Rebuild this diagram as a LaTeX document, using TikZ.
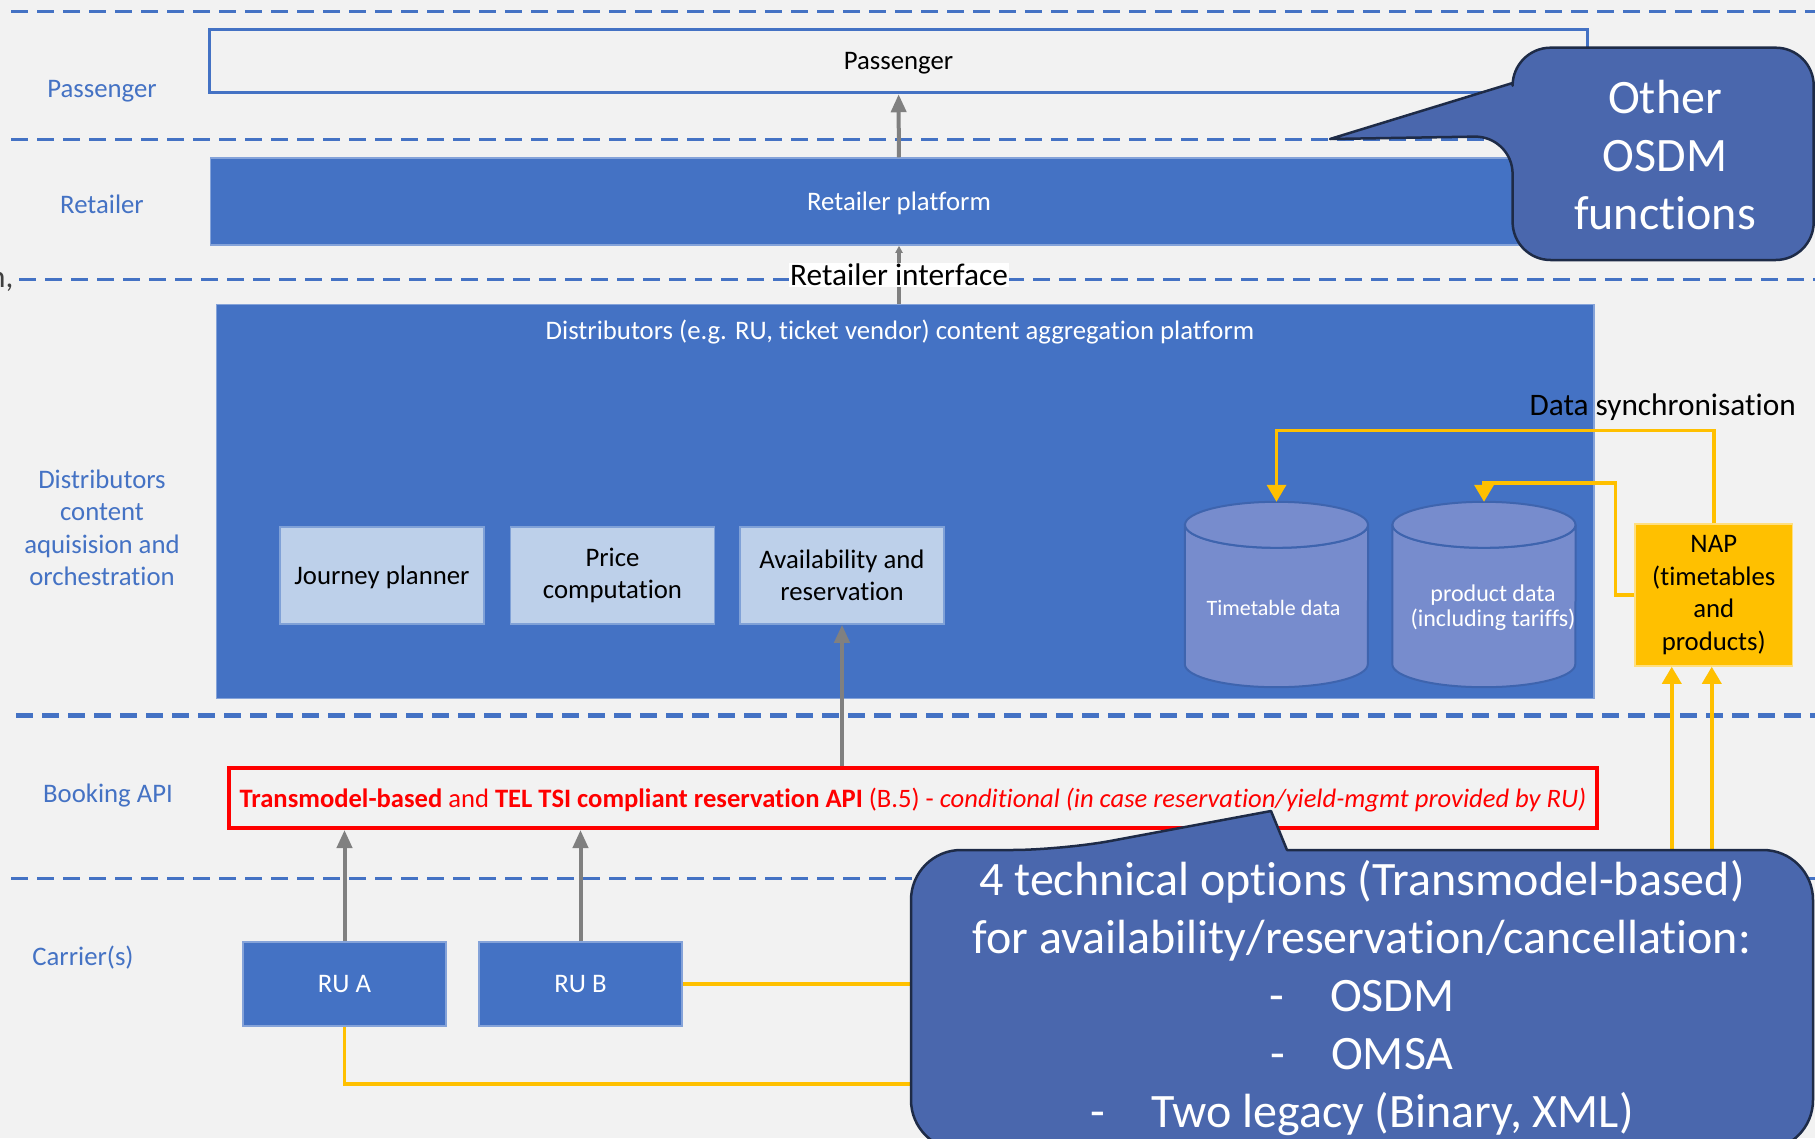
\documentclass[tikz,border=0pt]{standalone}
\usepackage{fontspec}
\setmainfont{Carlito}[Ligatures=NoCommon]
\usetikzlibrary{calc}
\usetikzlibrary{arrows.meta}

\definecolor{bggray}{HTML}{F2F2F2}
\definecolor{office}{HTML}{4472C4}
\definecolor{paleblue}{HTML}{BDD0EA}
\definecolor{cylblue}{HTML}{778CCD}
\definecolor{cyledge}{HTML}{3E64AE}
\definecolor{callblue}{HTML}{4A67AD}
\definecolor{calledge}{HTML}{1E2B47}
\definecolor{amber}{HTML}{FFC000}
\definecolor{arrowgray}{HTML}{808080}
\definecolor{apired}{HTML}{FF0000}

\newcommand{\lbl}{\fontsize{26.75}{32.5}\selectfont}
\newcommand{\biglbl}{\fontsize{31.3}{38}\selectfont}
\newcommand{\dbfont}{\fontsize{22}{25}\selectfont}
\newcommand{\prodfont}{\fontsize{24}{25}\selectfont}
\newcommand{\apifont}{\fontsize{26.6}{30}\selectfont}
\newcommand{\callfont}{\fontsize{48}{58}\selectfont}

\begin{document}
\begin{tikzpicture}[x=1pt,y=-1pt,
    lane/.style={draw=office,line width=3pt,dash pattern=on 17pt off 9pt},
    blk/.style={draw=office!65!white,line width=1.5pt,fill=office,text=white,font=\lbl,inner sep=0pt},
    pale/.style={draw=office!50!paleblue,line width=1.5pt,fill=paleblue,font=\lbl,align=center,inner sep=0pt,minimum width=204pt,minimum height=97pt},
    cyl/.style={draw=cyledge,line width=2pt,fill=cylblue},
    side/.style={text=office,font=\lbl,align=center},
    oneline/.style={text depth=0pt},
    up/.style={draw=arrowgray,line width=4pt,-{Triangle[length=18pt,width=15pt]}},
    sync/.style={draw=amber,line width=3.5pt,-{Triangle[length=17pt,width=19pt]}},
    callout/.style={fill=callblue,draw=calledge,line width=2.5pt,line join=round}]
    \path[use as bounding box] (0,0) rectangle (1815,1138);
    \clip (0,0) rectangle (1815,1138);
    \fill[bggray] (0,0) rectangle (1815,1138);
    % Lanes.
    \foreach \y/\x in {11.6/11,139/11,279/19,878/11}
      \draw[lane] (\x,\y) -- (1815,\y);
    \draw[lane,line width=5pt] (16,715) -- (1815,715);
    \node[text=black!75,font=\biglbl,anchor=east] at (17,282) {n,};
    \node[side,oneline] at (102,89) {Passenger};
    \node[side,oneline] at (102,204) {Retailer};
    \node[side] at (102,528) {Distributors\\content\\aquisision and\\orchestration};
    \node[side,oneline] at (108,793) {Booking API};
    \node[side,oneline] at (83,956) {Carrier(s)};
    % Passenger and retailer.
    \node[draw=office,line width=3.5pt,font=\lbl,oneline,minimum width=1378pt,minimum height=63pt] (passenger) at (898.5,61) {Passenger};
    \node[blk,oneline,minimum width=1377pt,minimum height=87pt] (retailer) at (899,201.5) {Retailer platform};
    \draw[up] (retailer) -- (passenger);
    % Distributor platform.
    \node[blk,minimum width=1377.5pt,minimum height=394pt] (distrib) at (905.25,501.5) {};
    \node[text=white,font=\lbl,oneline] at (900,330) {Distributors (e.g. RU, ticket vendor) content aggregation platform};
    \draw[draw=arrowgray,line width=4pt,-{Triangle[length=7pt,width=7pt]}] (distrib.north -| retailer.south) -- (retailer.south)
      node[midway,fill=white,font=\biglbl,text=black,inner sep=1pt] {Retailer interface};
    \node[pale,oneline] (journey) at (382,575.5) {Journey planner};
    \node[pale] (price) at (612.5,575.5) {Price\\computation};
    \node[pale] (avail) at (842,575.5) {Availability and\\reservation};
    % Databases.
    \node[minimum width=183pt,minimum height=185pt,inner sep=0pt] (timetable) at (1276.5,594.5) {};
    \node[minimum width=183pt,minimum height=185pt,inner sep=0pt] (product) at (1484,594.5) {};
    \foreach \db in {timetable,product} {
      \filldraw[cyl] ($(\db.north west)+(0,23)$) -- ($(\db.south west)+(0,-23)$)
        arc[start angle=180,end angle=0,x radius=91.5,y radius=23]
        -- ($(\db.north east)+(0,23)$) arc[start angle=0,end angle=180,x radius=91.5,y radius=23] -- cycle;
      \filldraw[cyl] ($(\db.north)+(0,23)$) ellipse[x radius=91.5,y radius=23];
    }
    \node[text=white,font=\dbfont,oneline] at ($(timetable)+(-3,13)$) {Timetable data};
    \node[text=white,font=\prodfont,align=center] at ($(product)+(9,13)$) {product data\\(including tariffs)};
    \node[fill=amber,draw=amber!50!white,line width=1.5pt,font=\lbl,align=center,inner sep=0pt,minimum width=157.5pt,minimum height=142pt] (nap) at (1713.75,595) {NAP\\(timetables\\and\\products)};
    \node[font=\biglbl,anchor=west] at (1526,407) {Data synchronisation};
    \draw[sync] (nap.north) -- ++(0,-93) -| (timetable.north);
    \draw[sync] (nap.west) -- ++(-19,0) -- ++(0,-112) -| (product.north);
    % Booking API and carriers.
    \node[draw=apired,line width=4pt,minimum width=1368pt,minimum height=60pt,text=apired,font=\apifont,oneline] (booking) at (913,798) {\textbf{Transmodel-based} and \textbf{TEL TSI compliant reservation API} (B.5) - \textit{conditional (in case reservation/yield-mgmt provided by RU)}};
    \draw[up] (booking.north -| avail.south) -- (avail.south);
    \node[blk,oneline,minimum width=203pt,minimum height=84pt] (rua) at (344.5,984) {RU A};
    \node[blk,oneline,minimum width=203pt,minimum height=84pt] (rub) at (580.5,984) {RU B};
    \draw[up] (rua.north) -- (rua.north |- booking.south);
    \draw[up] (rub.north) -- (rub.north |- booking.south);
    \draw[sync] (rub.east) -| ($(nap.south)+(-42,0)$);
    \draw[sync] (rua.south) -- ++(0,57) -| ($(nap.south)+(-2,0)$);
    % Callouts.
    \filldraw[callout] (1330,139) -- (1512.6,83) [rounded corners=38pt] -- (1512.6,47.7) -- (1813.7,47.7) -- (1813.7,260) -- (1512.6,260) -- (1512.6,136) [sharp corners] -- cycle;
    \node[text=white,font=\callfont,align=center] (other) at (1665,155) {Other\\OSDM\\functions};
    \filldraw[callout] (1271,811) -- (1287,850) [rounded corners=50pt] -- (1813,850) -- (1813,1150) -- (911,1150) -- (911,850) -- (1062,850) [sharp corners] -- cycle;
    \node[text=white,font=\callfont,align=center] (options) at (1362,998) {4 technical options (Transmodel-based)\\for availability/reservation/cancellation:\\-\hspace{46pt}OSDM\\-\hspace{46pt}OMSA\\-\hspace{46pt}Two legacy (Binary, XML)};
\end{tikzpicture}
\end{document}
